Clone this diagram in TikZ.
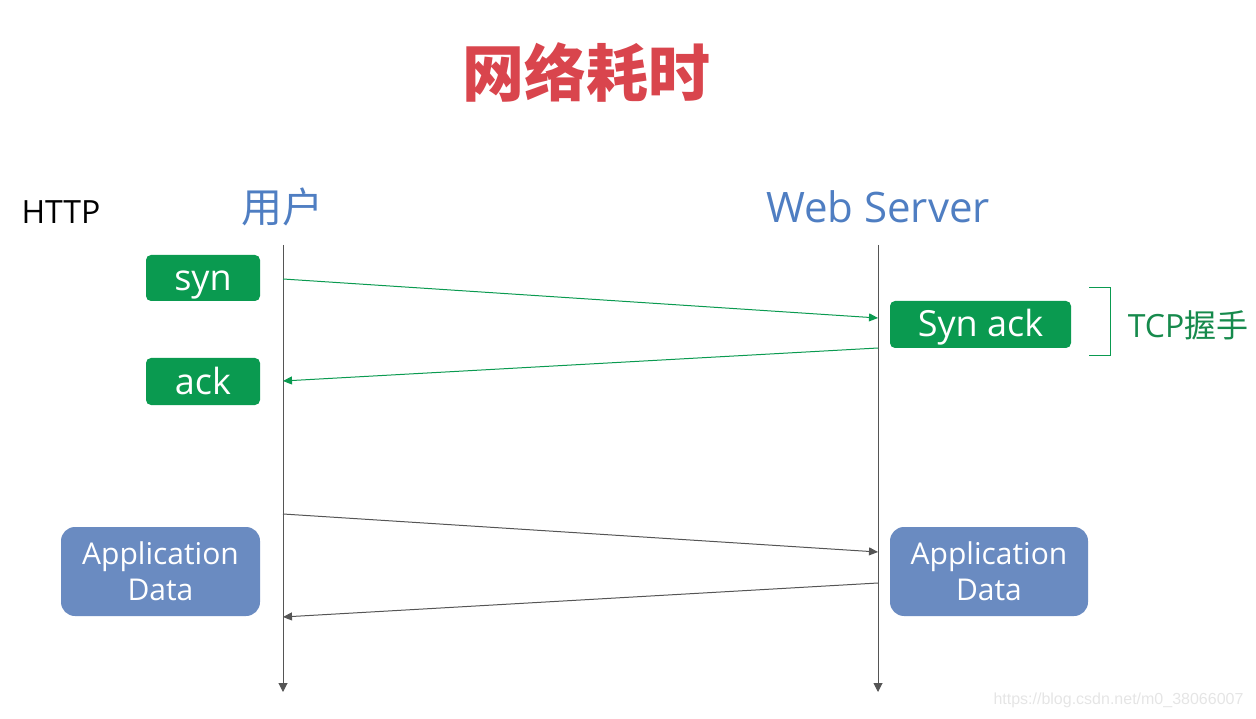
\documentclass[tikz,border=0pt]{standalone}
\usepackage{fontspec}
\setmainfont{Open Sans}
\newfontfamily\cjk{Noto Sans CJK SC}
\newfontfamily\wmfont{Liberation Sans}
\usetikzlibrary{arrows.meta}
\definecolor{titlered}{HTML}{D9454D}
\definecolor{headblue}{HTML}{4F7EC2}
\definecolor{boxgreen}{HTML}{0A9A50}
\definecolor{tcpgreen}{HTML}{168A4C}
\definecolor{boxblue}{HTML}{6A8BC1}
\definecolor{linegray}{HTML}{555555}
\tikzset{
  greenbox/.style={fill=boxgreen, rounded corners=5pt, text=white, inner sep=0pt, text height=26pt, text depth=1pt, font=\fontsize{36}{42}\selectfont},
  bluebox/.style={fill=boxblue, rounded corners=14pt, text=white, inner sep=0pt, align=center, font=\fontsize{30}{36}\selectfont},
  lifeline/.style={draw=linegray, line width=1pt, -{Triangle[length=9pt,width=9pt]}},
  greenmsg/.style={draw=boxgreen, line width=1pt, -{Triangle[length=9pt,width=8pt]}},
  graymsg/.style={draw=linegray, line width=1pt, -{Triangle[length=9pt,width=8pt]}},
  head/.style={text=headblue, font=\fontsize{42}{48}\selectfont}
}
\begin{document}
\begin{tikzpicture}[x=1pt,y=-1pt]
\useasboundingbox (0,0) rectangle (1256,719);
\node[text=titlered, font=\cjk\bfseries\fontsize{62}{68}\selectfont] (title) at (586,72) {网络耗时};
\node[font=\fontsize{32}{36}\selectfont] (http) at (61,212) {HTTP};
\node[head, font=\cjk\fontsize{41}{48}\selectfont] (user) at (282,207) {用户};
\node[head] (server) at (878,207) {Web Server};
\coordinate (ut) at (283,245);
\coordinate (ub) at (283,692);
\coordinate (st) at (878,245);
\coordinate (sb) at (878,692);
\draw[lifeline] (ut) -- (ub);
\draw[lifeline] (st) -- (sb);
\node[greenbox, minimum width=114pt, minimum height=46pt] (syn) at (203,278) {syn};
\node[greenbox, minimum width=114pt, minimum height=47pt] (ack) at (203,381.5) {ack};
\node[greenbox, minimum width=181pt, minimum height=47pt] (synack) at (980.5,324.5) {Syn ack};
\coordinate (s1) at (283,279);
\coordinate (e1) at (878,318);
\coordinate (s2) at (878,348);
\coordinate (e2) at (283,381);
\draw[greenmsg] (s1) -- (e1);
\draw[greenmsg] (s2) -- (e2);
\coordinate (b1) at (1089,288);
\coordinate (b2) at (1110,288);
\coordinate (b3) at (1110,356);
\coordinate (b4) at (1089,356);
\draw[boxgreen, line width=1pt] (b1) -- (b2) -- (b3) -- (b4);
\node[text=tcpgreen, font=\fontsize{32}{36}\selectfont] (tcp) at (1188,325) {TCP{\cjk 握手}};
\node[bluebox, minimum width=199pt, minimum height=89pt] (appL) at (160.5,571.5) {Application\\Data};
\node[bluebox, minimum width=198pt, minimum height=89pt] (appR) at (989,571.5) {Application\\Data};
\coordinate (s3) at (283,514);
\coordinate (e3) at (878,552);
\coordinate (s4) at (878,583);
\coordinate (e4) at (283,617);
\draw[graymsg] (s3) -- (e3);
\draw[graymsg] (s4) -- (e4);
\node[text=black!10, font=\wmfont\fontsize{16}{18}\selectfont, anchor=east] (wm) at (1247,700) {https://blog.csdn.net/m0\_38066007};
\end{tikzpicture}
\end{document}
